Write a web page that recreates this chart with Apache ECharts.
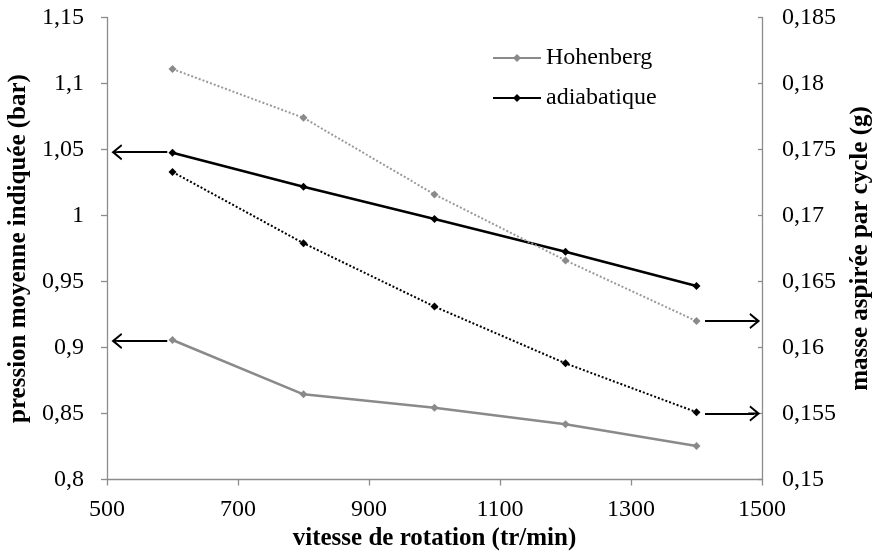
<!DOCTYPE html>
<html>
<head>
<meta charset="utf-8">
<script src="https://cdn.jsdelivr.net/npm/echarts@6/dist/echarts.min.js"></script>
<style>html,body{margin:0;padding:0;background:#fff}#c{width:872px;height:557px}</style>
</head>
<body>
<div id="c"></div>
<script>
// ---- data ----
var vitesse = [600, 800, 1000, 1200, 1400];
var pressionHohenberg = [0.9057, 0.8645, 0.8544, 0.8418, 0.8254];
var pressionAdiabatique = [1.0476, 1.0218, 0.9973, 0.9726, 0.9466];
var masseHohenberg = [0.1811, 0.1774, 0.1716, 0.1666, 0.1620];
var masseAdiabatique = [0.1733, 0.1679, 0.1631, 0.1588, 0.1551];
var xTickLabels = [500, 700, 900, 1100, 1300, 1500];

function pairs(xs, ys) { return xs.map(function (x, i) { return [x, ys[i]]; }); }
function fmt(v) { return String(+(+v).toFixed(4)).replace('.', ','); }

var FONT = 'Liberation Serif';
var GRAY = '#8a8a8a';
var AXIS = '#8c8c8c';
var arrowPath = 'path://M5,0 L10,8.2 L8.9,8.9 L5.6,3.6 L5.6,10 L4.4,10 L4.4,3.6 L1.1,8.9 L0,8.2 Z';

function arrow(from, to) {
  return [{ coord: from }, { coord: to }];
}
var arrowLine = {
  silent: true,
  symbol: ['none', arrowPath],
  symbolSize: [16, 12],
  label: { show: false },
  lineStyle: { color: '#000', width: 2.2, type: 'solid' },
  emphasis: { disabled: true }
};

var chart = echarts.init(document.getElementById('c'), null, { renderer: 'canvas' });
chart.setOption({
  animation: false,
  backgroundColor: '#fff',
  textStyle: { fontFamily: FONT },
  grid: { left: 107, right: 110, top: 17.5, bottom: 77.5, containLabel: false, outerBoundsMode: 'none' },
  legend: {
    data: ['Hohenberg', 'adiabatique'],
    orient: 'vertical',
    left: 487, top: 41,
    itemWidth: 48, itemHeight: 10, itemGap: 16,
    textStyle: { fontFamily: FONT, fontSize: 24, color: '#000' }
  },
  xAxis: {
    type: 'value', min: 500, max: 1500,
    name: 'vitesse de rotation (tr/min)',
    nameLocation: 'middle', nameGap: 47,
    nameTextStyle: { fontFamily: FONT, fontSize: 25, fontWeight: 'bold', color: '#000' },
    axisLine: { show: true, onZero: false, lineStyle: { color: AXIS, width: 1.3 } },
    axisTick: { show: true, inside: false, length: 6, lineStyle: { color: AXIS, width: 1.3 }, customValues: xTickLabels },
    axisLabel: { fontFamily: FONT, fontSize: 24, color: '#000', margin: 18, customValues: xTickLabels,
      formatter: function (v) { return String(v); } },
    splitLine: { show: false }
  },
  yAxis: [{
    type: 'value', min: 0.8, max: 1.15, interval: 0.05,
    name: 'pression moyenne indiquée (bar)',
    nameLocation: 'middle', nameGap: 67, nameRotate: 90,
    nameTextStyle: { fontFamily: FONT, fontSize: 25, fontWeight: 'bold', color: '#000' },
    axisLine: { show: true, lineStyle: { color: AXIS, width: 1.3 } },
    axisTick: { show: true, length: 6, lineStyle: { color: AXIS, width: 1.3 } },
    axisLabel: { fontFamily: FONT, fontSize: 24, color: '#000', margin: 23, formatter: fmt },
    splitLine: { show: false }
  }, {
    type: 'value', min: 0.15, max: 0.185, interval: 0.005, position: 'right',
    name: 'masse aspirée par cycle (g)',
    nameLocation: 'middle', nameGap: 86, nameRotate: 90,
    nameTextStyle: { fontFamily: FONT, fontSize: 25, fontWeight: 'bold', color: '#000' },
    axisLine: { show: true, lineStyle: { color: AXIS, width: 1.3 } },
    axisTick: { show: true, inside: true, length: 4, lineStyle: { color: AXIS, width: 1.3 } },
    axisLabel: { fontFamily: FONT, fontSize: 24, color: '#000', margin: 20, formatter: fmt },
    splitLine: { show: false }
  }],
  series: [{
    name: 'Hohenberg', type: 'line', yAxisIndex: 0,
    data: pairs(vitesse, pressionHohenberg),
    symbol: 'diamond', symbolSize: 8,
    lineStyle: { color: GRAY, width: 2.5 },
    itemStyle: { color: GRAY },
    markLine: Object.assign({}, arrowLine, { data: [arrow([592, 0.905], [516, 0.905])] })
  }, {
    name: 'adiabatique', type: 'line', yAxisIndex: 0,
    data: pairs(vitesse, pressionAdiabatique),
    symbol: 'diamond', symbolSize: 8,
    lineStyle: { color: '#000', width: 2.5 },
    itemStyle: { color: '#000' },
    markLine: Object.assign({}, arrowLine, { data: [arrow([592, 1.048], [516, 1.048])] })
  }, {
    name: 'Hohenberg (masse)', type: 'line', yAxisIndex: 1,
    data: pairs(vitesse, masseHohenberg),
    symbol: 'diamond', symbolSize: 8,
    lineStyle: { color: '#9a9a9a', width: 2, type: [2, 2] },
    itemStyle: { color: '#8a8a8a' },
    markLine: Object.assign({}, arrowLine, { data: [arrow([1413, 0.162], [1488, 0.162])] })
  }, {
    name: 'adiabatique (masse)', type: 'line', yAxisIndex: 1,
    data: pairs(vitesse, masseAdiabatique),
    symbol: 'diamond', symbolSize: 8,
    lineStyle: { color: '#000', width: 2, type: [2, 2] },
    itemStyle: { color: '#000' },
    markLine: Object.assign({}, arrowLine, { data: [arrow([1413, 0.155], [1488, 0.155])] })
  }]
});
</script>
</body>
</html>
